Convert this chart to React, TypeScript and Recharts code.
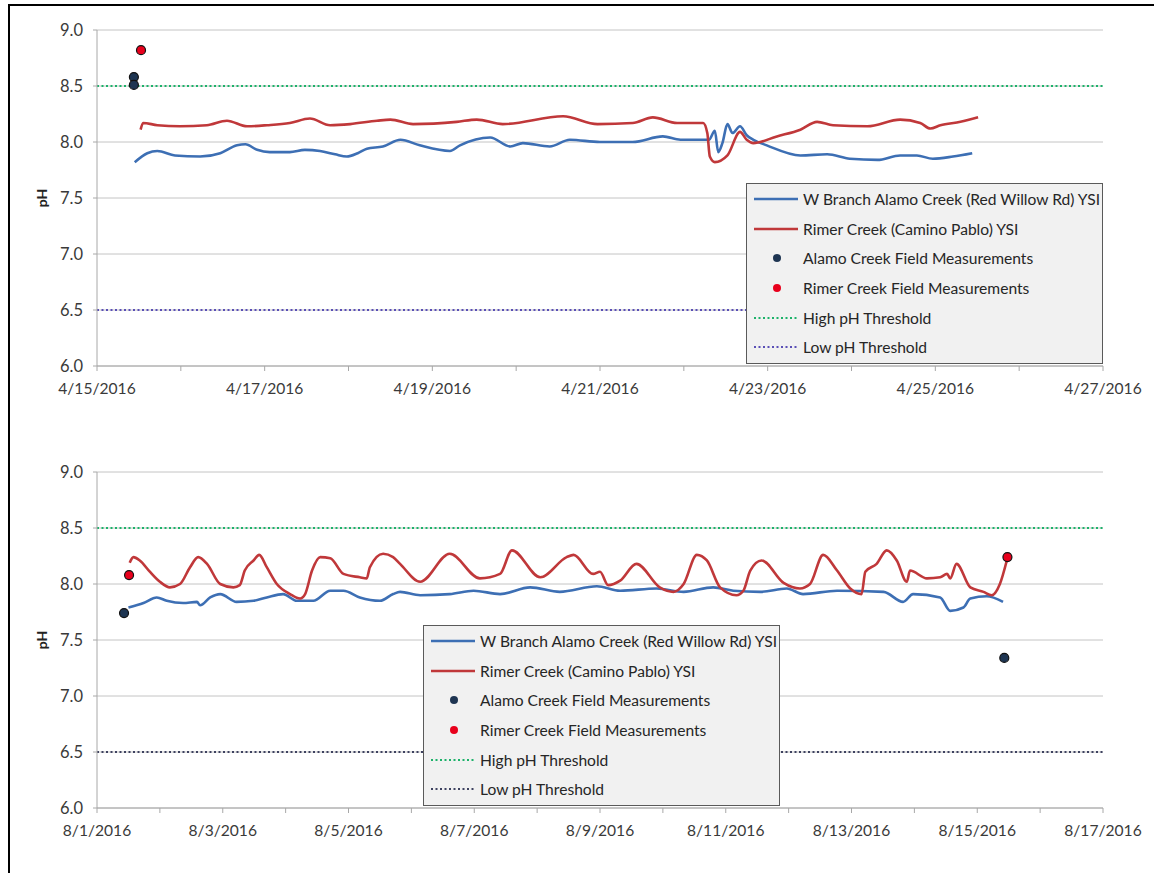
import React from 'react';
import { ComposedChart, Line, Scatter, XAxis, YAxis, CartesianGrid, Legend } from 'recharts';

const FONT = 'Lato, "Open Sans", sans-serif';

// ---------- April (top) chart: x = days since 4/15/2016 ----------
const aprilTickLabels = ['4/15/2016', '4/17/2016', '4/19/2016', '4/21/2016', '4/23/2016', '4/25/2016', '4/27/2016'];

const aprilAlamoDays = [0.45, 0.6, 0.72, 0.93, 1.23, 1.47, 1.67, 1.77, 1.91, 2.06, 2.3, 2.48, 2.66, 2.84, 2.98, 3.11, 3.22, 3.41, 3.62, 3.85, 4.21, 4.33, 4.69, 4.93, 5.08, 5.4, 5.64, 6.0, 6.39, 6.75, 6.96, 7.3, 7.37, 7.41, 7.46, 7.52, 7.58, 7.67, 7.75, 7.83, 7.99, 8.39, 8.71, 8.98, 9.31, 9.58, 9.78, 9.97, 10.21, 10.44];
const aprilAlamoPH = [7.82, 7.9, 7.92, 7.88, 7.87, 7.9, 7.97, 7.98, 7.93, 7.91, 7.91, 7.93, 7.92, 7.89, 7.87, 7.9, 7.94, 7.96, 8.02, 7.97, 7.92, 7.97, 8.04, 7.96, 7.99, 7.96, 8.02, 8.0, 8.0, 8.05, 8.02, 8.02, 8.1, 7.91, 7.99, 8.16, 8.08, 8.14, 8.06, 8.02, 7.97, 7.88, 7.89, 7.85, 7.84, 7.88, 7.88, 7.85, 7.87, 7.9];

const aprilRimerDays = [0.52, 0.55, 0.72, 0.99, 1.31, 1.55, 1.79, 2.03, 2.3, 2.54, 2.78, 3.02, 3.34, 3.5, 3.77, 4.29, 4.53, 4.84, 5.56, 5.97, 6.39, 6.63, 6.92, 7.23, 7.28, 7.31, 7.37, 7.52, 7.67, 7.75, 7.83, 8.11, 8.39, 8.59, 8.78, 9.19, 9.58, 9.82, 9.94, 10.06, 10.3, 10.51];
const aprilRimerPH = [8.11, 8.17, 8.15, 8.14, 8.15, 8.19, 8.14, 8.15, 8.17, 8.21, 8.15, 8.16, 8.19, 8.2, 8.16, 8.18, 8.2, 8.16, 8.23, 8.16, 8.17, 8.22, 8.17, 8.17, 8.08, 7.87, 7.82, 7.88, 8.09, 8.02, 7.99, 8.05, 8.11, 8.18, 8.15, 8.14, 8.2, 8.17, 8.12, 8.15, 8.18, 8.22];

const aprilAlamoFieldDays = [0.44, 0.44];
const aprilAlamoFieldPH = [8.58, 8.51];
const aprilRimerFieldDays = [0.525];
const aprilRimerFieldPH = [8.82];

// ---------- August (bottom) chart: x = days since 8/1/2016 ----------
const augustTickLabels = ['8/1/2016', '8/3/2016', '8/5/2016', '8/7/2016', '8/9/2016', '8/11/2016', '8/13/2016', '8/15/2016', '8/17/2016'];

const augustAlamoDays = [0.5, 0.74, 0.95, 1.11, 1.37, 1.59, 1.64, 1.8, 1.96, 2.22, 2.49, 2.7, 2.96, 3.18, 3.44, 3.71, 3.92, 4.18, 4.5, 4.71, 4.82, 5.14, 5.61, 5.99, 6.41, 6.89, 7.36, 7.95, 8.32, 8.9, 9.33, 9.8, 10.12, 10.55, 10.97, 11.23, 11.77, 12.51, 12.82, 12.98, 13.41, 13.57, 13.78, 13.89, 14.15, 14.41];
const augustAlamoPH = [7.79, 7.83, 7.88, 7.85, 7.83, 7.84, 7.81, 7.88, 7.91, 7.84, 7.85, 7.88, 7.91, 7.85, 7.85, 7.94, 7.94, 7.88, 7.85, 7.91, 7.93, 7.9, 7.91, 7.94, 7.91, 7.97, 7.93, 7.98, 7.94, 7.96, 7.93, 7.97, 7.94, 7.93, 7.96, 7.91, 7.94, 7.93, 7.84, 7.91, 7.88, 7.76, 7.79, 7.87, 7.89, 7.84];

const augustRimerDays = [0.52, 0.58, 0.68, 0.84, 1.0, 1.16, 1.32, 1.48, 1.61, 1.75, 1.96, 2.17, 2.27, 2.35, 2.49, 2.58, 2.7, 2.86, 3.07, 3.23, 3.31, 3.42, 3.55, 3.71, 3.92, 4.18, 4.29, 4.34, 4.55, 4.71, 4.82, 5.14, 5.61, 6.09, 6.41, 6.6, 7.05, 7.47, 7.58, 7.89, 8.0, 8.13, 8.32, 8.58, 8.95, 9.17, 9.33, 9.54, 9.7, 9.91, 10.17, 10.28, 10.39, 10.57, 10.92, 11.18, 11.34, 11.55, 11.77, 11.98, 12.16, 12.22, 12.4, 12.56, 12.72, 12.88, 12.93, 13.2, 13.41, 13.52, 13.57, 13.67, 13.89, 14.1, 14.23, 14.36, 14.47];
const augustRimerPH = [8.19, 8.24, 8.21, 8.11, 8.02, 7.97, 8.0, 8.15, 8.24, 8.18, 8.0, 7.97, 7.99, 8.12, 8.21, 8.26, 8.15, 8.0, 7.91, 7.87, 7.91, 8.12, 8.24, 8.23, 8.09, 8.06, 8.05, 8.15, 8.27, 8.24, 8.18, 8.02, 8.27, 8.05, 8.09, 8.3, 8.06, 8.24, 8.26, 8.09, 8.11, 7.99, 8.03, 8.18, 7.97, 7.93, 8.0, 8.26, 8.21, 7.97, 7.9, 7.94, 8.12, 8.21, 8.01, 7.96, 8.0, 8.26, 8.12, 7.96, 7.91, 8.11, 8.18, 8.3, 8.21, 8.02, 8.12, 8.05, 8.06, 8.09, 8.05, 8.18, 7.97, 7.93, 7.9, 8.0, 8.21];

const augustAlamoFieldDays = [0.43, 14.43];
const augustAlamoFieldPH = [7.74, 7.34];
const augustRimerFieldDays = [0.51, 14.48];
const augustRimerFieldPH = [8.08, 8.24];

// ---------- shared ----------
const yTicks = [6.0, 6.5, 7.0, 7.5, 8.0, 8.5, 9.0];
const highThreshold = 8.5;
const lowThreshold = 6.5;

const seriesNames = [
  'W Branch Alamo Creek (Red Willow Rd) YSI',
  'Rimer Creek (Camino Pablo) YSI',
  'Alamo Creek Field Measurements',
  'Rimer Creek Field Measurements',
  'High pH Threshold',
  'Low pH Threshold',
];

const BLUE = '#3d6fb4';
const RED = '#c0383a';
const NAVY = '#1e3552';
const FIELD_RED = '#e8001c';
const GREEN = '#1db26a';

const zip = (xs: number[], ys: number[]) => xs.map((x, i) => ({ x, y: ys[i] }));

type LegendKind = 'line' | 'dot' | 'dotted';
interface LegendItem { label: string; kind: LegendKind; color: string }

const LegendBox = ({ items }: { items: LegendItem[] }) => (
  <div
    style={{
      boxSizing: 'border-box',
      width: 357,
      height: 181,
      border: '1.5px solid #5a5a5a',
      background: '#f1f1f1',
      fontFamily: FONT,
      fontSize: 15.6,
      color: '#262626',
    }}
  >
    {items.map((it) => (
      <div key={it.label} style={{ display: 'flex', alignItems: 'center', height: 29.7, whiteSpace: 'nowrap' }}>
        <svg width={56} height={12} style={{ flex: 'none' }}>
          {it.kind === 'line' && <line x1={7} x2={51} y1={6} y2={6} stroke={it.color} strokeWidth={2.5} />}
          {it.kind === 'dotted' && (
            <line x1={7} x2={51} y1={6} y2={6} stroke={it.color} strokeWidth={2} strokeDasharray="2 2.5" />
          )}
          {it.kind === 'dot' && <circle cx={30} cy={6} r={4} fill={it.color} />}
        </svg>
        <span>{it.label}</span>
      </div>
    ))}
  </div>
);

interface PanelProps {
  tickLabels: string[];
  span: number;
  alamo: { x: number; y: number }[];
  rimer: { x: number; y: number }[];
  alamoField: { x: number; y: number }[];
  rimerField: { x: number; y: number }[];
  lowColor: string;
  legendLeft: number;
  top: number;
}

const fieldShape = (fill: string) => (props: any) => (
  <circle cx={props.cx} cy={props.cy} r={4.5} fill={fill} stroke="#111" strokeWidth={1.2} />
);

const Panel = ({ tickLabels, span, alamo, rimer, alamoField, rimerField, lowColor, legendLeft, top }: PanelProps) => {
  const dayTicks = Array.from({ length: span + 1 }, (_, i) => i);
  const high = [{ x: 0, y: highThreshold }, { x: span, y: highThreshold }];
  const low = [{ x: 0, y: lowThreshold }, { x: span, y: lowThreshold }];
  const legendItems: LegendItem[] = [
    { label: seriesNames[0], kind: 'line', color: BLUE },
    { label: seriesNames[1], kind: 'line', color: RED },
    { label: seriesNames[2], kind: 'dot', color: NAVY },
    { label: seriesNames[3], kind: 'dot', color: FIELD_RED },
    { label: seriesNames[4], kind: 'dotted', color: GREEN },
    { label: seriesNames[5], kind: 'dotted', color: lowColor },
  ];
  return (
    <div style={{ position: 'absolute', left: 0, top }}>
      <ComposedChart width={1154} height={420} margin={{ top: 30, right: 51, bottom: 14, left: 0 }}>
        <CartesianGrid horizontal vertical={false} stroke="#c4c4c4" strokeWidth={1} />
        <XAxis
          type="number"
          dataKey="x"
          domain={[0, span]}
          ticks={dayTicks}
          interval={0}
          height={40}
          tickFormatter={(v: number) => (v % 2 === 0 ? tickLabels[v / 2] : '')}
          tick={{ fill: '#3a3a3a', fontSize: 15.6, fontFamily: FONT }}
          tickSize={5}
          tickMargin={12}
          tickLine={{ stroke: '#a8a8a8' }}
          axisLine={{ stroke: '#a8a8a8' }}
          allowDataOverflow
        />
        <YAxis
          type="number"
          dataKey="y"
          domain={[6, 9]}
          ticks={yTicks}
          interval={0}
          width={97}
          tickFormatter={(v: number) => v.toFixed(1)}
          tick={{ fill: '#3a3a3a', fontSize: 16.5, fontFamily: FONT }}
          tickSize={4}
          tickMargin={10}
          tickLine={{ stroke: '#a8a8a8' }}
          axisLine={{ stroke: '#a8a8a8' }}
          label={{
            value: 'pH',
            angle: -90,
            position: 'insideLeft',
            offset: 42,
            style: { fontFamily: FONT, fontSize: 14, fontWeight: 700, fill: '#222', textAnchor: 'middle' },
          }}
        />
        <Line data={low} dataKey="y" stroke={lowColor} strokeWidth={2} strokeDasharray="2 2.5" dot={false} isAnimationActive={false} />
        <Line data={high} dataKey="y" stroke={GREEN} strokeWidth={2} strokeDasharray="2 2.5" dot={false} isAnimationActive={false} />
        <Line data={alamo} dataKey="y" type="monotone" stroke={BLUE} strokeWidth={2.6} dot={false} isAnimationActive={false} />
        <Line data={rimer} dataKey="y" type="monotone" stroke={RED} strokeWidth={2.6} dot={false} isAnimationActive={false} />
        <Scatter data={alamoField} dataKey="y" shape={fieldShape(NAVY)} isAnimationActive={false} />
        <Scatter data={rimerField} dataKey="y" shape={fieldShape(FIELD_RED)} isAnimationActive={false} />
        <Legend
          layout="vertical"
          align="center"
          verticalAlign="middle"
          wrapperStyle={{ left: legendLeft, top: 183, width: 357, height: 181 }}
          content={() => <LegendBox items={legendItems} />}
        />
      </ComposedChart>
    </div>
  );
};

export default function App() {
  return (
    <div style={{ position: 'absolute', left: 0, top: 0, width: 1154, height: 873, background: '#fff', overflow: 'hidden' }}>
      <div
        style={{
          position: 'absolute',
          left: 8,
          top: 4,
          width: 1146,
          height: 869,
          borderLeft: '2px solid #000',
          borderTop: '2px solid #000',
          boxSizing: 'border-box',
        }}
      />
      <Panel
        tickLabels={aprilTickLabels}
        span={12}
        alamo={zip(aprilAlamoDays, aprilAlamoPH)}
        rimer={zip(aprilRimerDays, aprilRimerPH)}
        alamoField={zip(aprilAlamoFieldDays, aprilAlamoFieldPH)}
        rimerField={zip(aprilRimerFieldDays, aprilRimerFieldPH)}
        lowColor="#5a4fb6"
        legendLeft={746}
        top={0}
      />
      <Panel
        tickLabels={augustTickLabels}
        span={16}
        alamo={zip(augustAlamoDays, augustAlamoPH)}
        rimer={zip(augustRimerDays, augustRimerPH)}
        alamoField={zip(augustAlamoFieldDays, augustAlamoFieldPH)}
        rimerField={zip(augustRimerFieldDays, augustRimerFieldPH)}
        lowColor="#3e4260"
        legendLeft={423}
        top={442}
      />
    </div>
  );
}
